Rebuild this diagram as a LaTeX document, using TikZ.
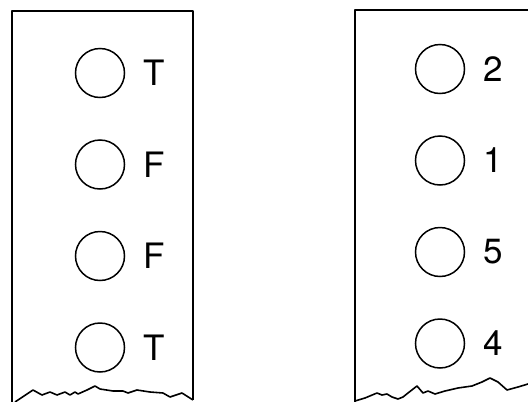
\documentclass[tikz,border=0pt]{standalone}
\usepackage{fontspec}
\setmainfont{TeX Gyre Heros}
\usepackage{tikz}
\usetikzlibrary{positioning}

\begin{document}
\begin{tikzpicture}[x=1pt, y=-1pt,
    hole/.style={circle, draw, line width=1.5pt, minimum size=49pt, inner sep=0pt},
    tag/.style={font=\fontsize{35}{35}\selectfont, inner sep=0pt, right=18pt of #1},
    edge/.style={line width=1.6pt, line join=round}
]
\useasboundingbox (0,0) rectangle (528,402);
% left strip: T F F T
\node[hole] (l1) at (100,73) {};
\node[hole, below=41pt of l1] (l2) {};
\node[hole, below=41pt of l2] (l3) {};
\node[hole, below=41pt of l3] (l4) {};
\node[tag=l1] (tl1) {T};
\node[tag=l2] (tl2) {F};
\node[tag=l3] (tl3) {F};
\node[tag=l4] (tl4) {T};
% right strip: 2 1 5 4
\node[hole] (r1) at (440,69) {};
\node[hole, below=41pt of r1] (r2) {};
\node[hole, below=41pt of r2] (r3) {};
\node[hole, below=41pt of r3] (r4) {};
\node[tag=r1] (tr1) {2};
\node[tag=r2] (tr2) {1};
\node[tag=r3] (tr3) {5};
\node[tag=r4] (tr4) {4};
% strips with torn lower edge
\draw[edge] (12,402) -- (12,11) -- (193,11) -- (193,400);
\draw[edge] (15,402) -- (33,390) -- (42,395) -- (50,392) -- (57,395) -- (65,392)
    -- (70,395) -- (75,392) -- (78,394) -- (87,390) -- (95,386) -- (100,389)
    -- (113,391) -- (123,391) -- (128,393) -- (137,390) -- (150,392) -- (163,393)
    -- (170,397) -- (182,393) -- (193,400);
\draw[edge] (355,402) -- (355,10) -- (528,10);
\draw[edge] (355,401) -- (365,398) -- (377,393) -- (382,395) -- (387,394) -- (392,397)
    -- (398,399) -- (403,397) -- (408,393) -- (417,386) -- (423,393) -- (428,391)
    -- (435,394) -- (445,391) -- (458,388) -- (472,386) -- (482,382) -- (490,378)
    -- (498,382) -- (507,390) -- (518,387) -- (528,384);
\end{tikzpicture}
\end{document}
